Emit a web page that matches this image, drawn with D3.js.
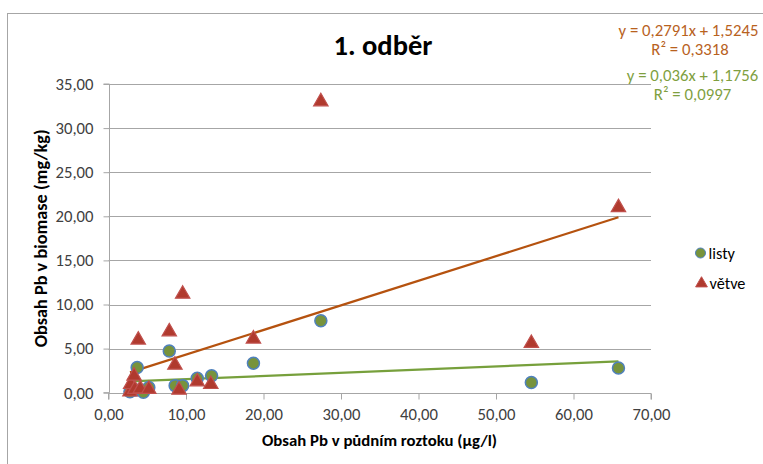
<!DOCTYPE html>
<html>
<head>
<meta charset="utf-8">
<script src="https://cdn.jsdelivr.net/npm/d3@7"></script>
<style>
  html, body { margin: 0; padding: 0; background: #fff; }
  svg { display: block; font-family: Carlito, Lato, "Open Sans", sans-serif; }
</style>
</head>
<body>
<svg id="chart" width="763" height="464"></svg>
<script>
// Pb in soil solution (µg/l) vs. Pb in biomass (mg/kg), first sampling
const listyX = [2.77, 3.5, 3.7, 4.5, 5.2, 7.84, 8.6, 9.56, 11.45, 13.3, 18.7, 27.4, 54.56, 65.8];
const listyY = [0.1, 0.3, 2.85, 0.05, 0.6, 4.73, 0.8, 0.8, 1.63, 1.93, 3.35, 8.15, 1.15, 2.8];
const vetveX = [2.77, 2.86, 3.3, 3.4, 3.84, 4.1, 5.2, 7.84, 8.57, 9.1, 9.57, 11.45, 13.2, 18.7, 27.4, 54.56, 65.8];
const vetveY = [0.1, 0.95, 1.9, 0.4, 5.98, 0.45, 0.4, 6.92, 3.14, 0.3, 11.19, 1.25, 0.95, 6.1, 33.0, 5.6, 21.0];

// linear trendlines: slope, intercept, R²
const trendListy = [0.036, 1.1756, 0.0997];
const trendVetve = [0.2791, 1.5245, 0.3318];

const xTicks = [0, 10, 20, 30, 40, 50, 60, 70];
const yTicks = [0, 5, 10, 15, 20, 25, 30, 35];
const seriesNames = ["listy", "větve"];

const fmt = v => v.toFixed(2).replace(".", ",");
const fmtCoef = v => String(v).replace(".", ",");

const svg = d3.select("#chart");
const x = d3.scaleLinear().domain([0, 70]).range([108.5, 651]);
const y = d3.scaleLinear().domain([0, 35]).range([392.7, 84]);

const gridColor = "#A6A6A6";
const textColor = "#404040";
const greenFill = "#77933C", blueEdge = "#4F81BD";
const redFill = "#B03A2E", redEdge = "#C0504D";
const orangeLine = "#B5520F", orangeText = "#B8621E";
const greenLine = "#77A03C", greenText = "#7F9F3F";

// font size that makes a string span the given width
function sizeFor(str, width, weight) {
  const t = svg.append("text").attr("font-size", 20).attr("font-weight", weight || "normal").text(str);
  const w = t.node().getComputedTextLength();
  t.remove();
  return 20 * width / w;
}
const tickSize = sizeFor("10,00", 38);
const eqSize = sizeFor("y = 0,2791x + 1,5245", 140);
const legSize = sizeFor("větve", 36);

// chart frame
svg.append("rect").attr("x", 7.5).attr("y", 13.5).attr("width", 800).attr("height", 500)
  .attr("fill", "none").attr("stroke", "#A6A6A6").attr("stroke-width", 1);

// title
svg.append("text").attr("x", 383).attr("y", 55).attr("text-anchor", "middle")
  .attr("font-size", sizeFor("1. odběr", 99, "bold")).attr("font-weight", "bold").attr("fill", "#000").text("1. odběr");

// horizontal gridlines
svg.append("g").selectAll("line").data(yTicks.filter(d => d > 0)).join("line")
  .attr("x1", x(0)).attr("x2", x(70)).attr("y1", d => Math.round(y(d)) + 0.5).attr("y2", d => Math.round(y(d)) + 0.5)
  .attr("stroke", gridColor).attr("stroke-width", 1);

// axes
const yAxis = svg.append("g").attr("transform", `translate(${Math.round(x(0)) + 0.5},0)`)
  .call(d3.axisLeft(y).tickValues(yTicks).tickFormat(fmt).tickSize(6).tickPadding(10));
const xAxis = svg.append("g").attr("transform", `translate(0,${Math.round(y(0)) + 0.5})`)
  .call(d3.axisBottom(x).tickValues(xTicks).tickFormat(fmt).tickSize(6).tickPadding(9));
[yAxis, xAxis].forEach(g => {
  g.select(".domain").attr("stroke", gridColor);
  g.selectAll(".tick line").attr("stroke", gridColor);
  g.selectAll(".tick text").attr("fill", textColor).attr("font-size", tickSize)
    .attr("font-family", "Carlito, Lato, 'Open Sans', sans-serif");
});
yAxis.select(".domain").attr("d", `M-6,${y(35)}H0V${y(0)}H-6`);
xAxis.select(".domain").attr("d", `M${x(0)},6V0H${x(70)}V6`);

// axis titles
const yTitle = "Obsah Pb v biomase (mg/kg)";
const xTitle = "Obsah Pb v půdním roztoku (µg/l)";
svg.append("text").attr("transform", `translate(47,${(y(0) + y(35)) / 2}) rotate(-90)`)
  .attr("text-anchor", "middle").attr("font-size", sizeFor(yTitle, 218, "bold")).attr("font-weight", "bold").attr("fill", "#000")
  .text(yTitle);
svg.append("text").attr("x", 379.5).attr("y", 446).attr("text-anchor", "middle")
  .attr("font-size", sizeFor(xTitle, 235, "bold")).attr("font-weight", "bold").attr("fill", "#000")
  .text(xTitle);

// trendlines over each series' x range
function trend(xs, coef, color) {
  const [a, b] = coef;
  const [x0, x1] = d3.extent(xs);
  svg.append("line").attr("x1", x(x0)).attr("y1", y(a * x0 + b)).attr("x2", x(x1)).attr("y2", y(a * x1 + b))
    .attr("stroke", color).attr("stroke-width", 2.25);
}
trend(listyX, trendListy, greenLine);
trend(vetveX, trendVetve, orangeLine);

// markers
const tri = d3.symbol().type(d3.symbolTriangle).size(90);
svg.append("g").selectAll("circle").data(d3.zip(listyX, listyY)).join("circle")
  .attr("cx", d => x(d[0])).attr("cy", d => y(d[1])).attr("r", 6)
  .attr("fill", greenFill).attr("stroke", blueEdge).attr("stroke-width", 1.5);
svg.append("g").selectAll("path").data(d3.zip(vetveX, vetveY)).join("path")
  .attr("d", tri).attr("transform", d => `translate(${x(d[0])},${y(d[1])})`)
  .attr("fill", redFill).attr("stroke", redEdge).attr("stroke-width", 1.2);

// trendline equations
const eq = svg.append("g").attr("font-size", eqSize).attr("text-anchor", "middle");
eq.append("text").attr("x", 688.5).attr("y", 36).attr("fill", orangeText)
  .text(`y = ${fmtCoef(trendVetve[0])}x + ${fmtCoef(trendVetve[1])}`);
eq.append("text").attr("x", 690).attr("y", 55).attr("fill", orangeText)
  .text(`R² = ${fmtCoef(trendVetve[2])}`);
eq.append("text").attr("x", 692.5).attr("y", 81).attr("fill", greenText)
  .text(`y = ${fmtCoef(trendListy[0])}x + ${fmtCoef(trendListy[1])}`);
eq.append("text").attr("x", 692.5).attr("y", 99.5).attr("fill", greenText)
  .text(`R² = ${fmtCoef(trendListy[2])}`);

// legend
const leg = svg.append("g").attr("font-size", legSize).attr("fill", "#000");
leg.append("circle").attr("cx", 700.5).attr("cy", 253).attr("r", 5)
  .attr("fill", greenFill).attr("stroke", blueEdge).attr("stroke-width", 1);
leg.append("text").attr("x", 708.5).attr("y", 258.5).text(seriesNames[0]);
leg.append("path").attr("d", d3.symbol().type(d3.symbolTriangle).size(60)())
  .attr("transform", "translate(701.5,283.5)").attr("fill", redFill).attr("stroke", redEdge).attr("stroke-width", 1);
leg.append("text").attr("x", 709.5).attr("y", 288.5).text(seriesNames[1]);
</script>
</body>
</html>
